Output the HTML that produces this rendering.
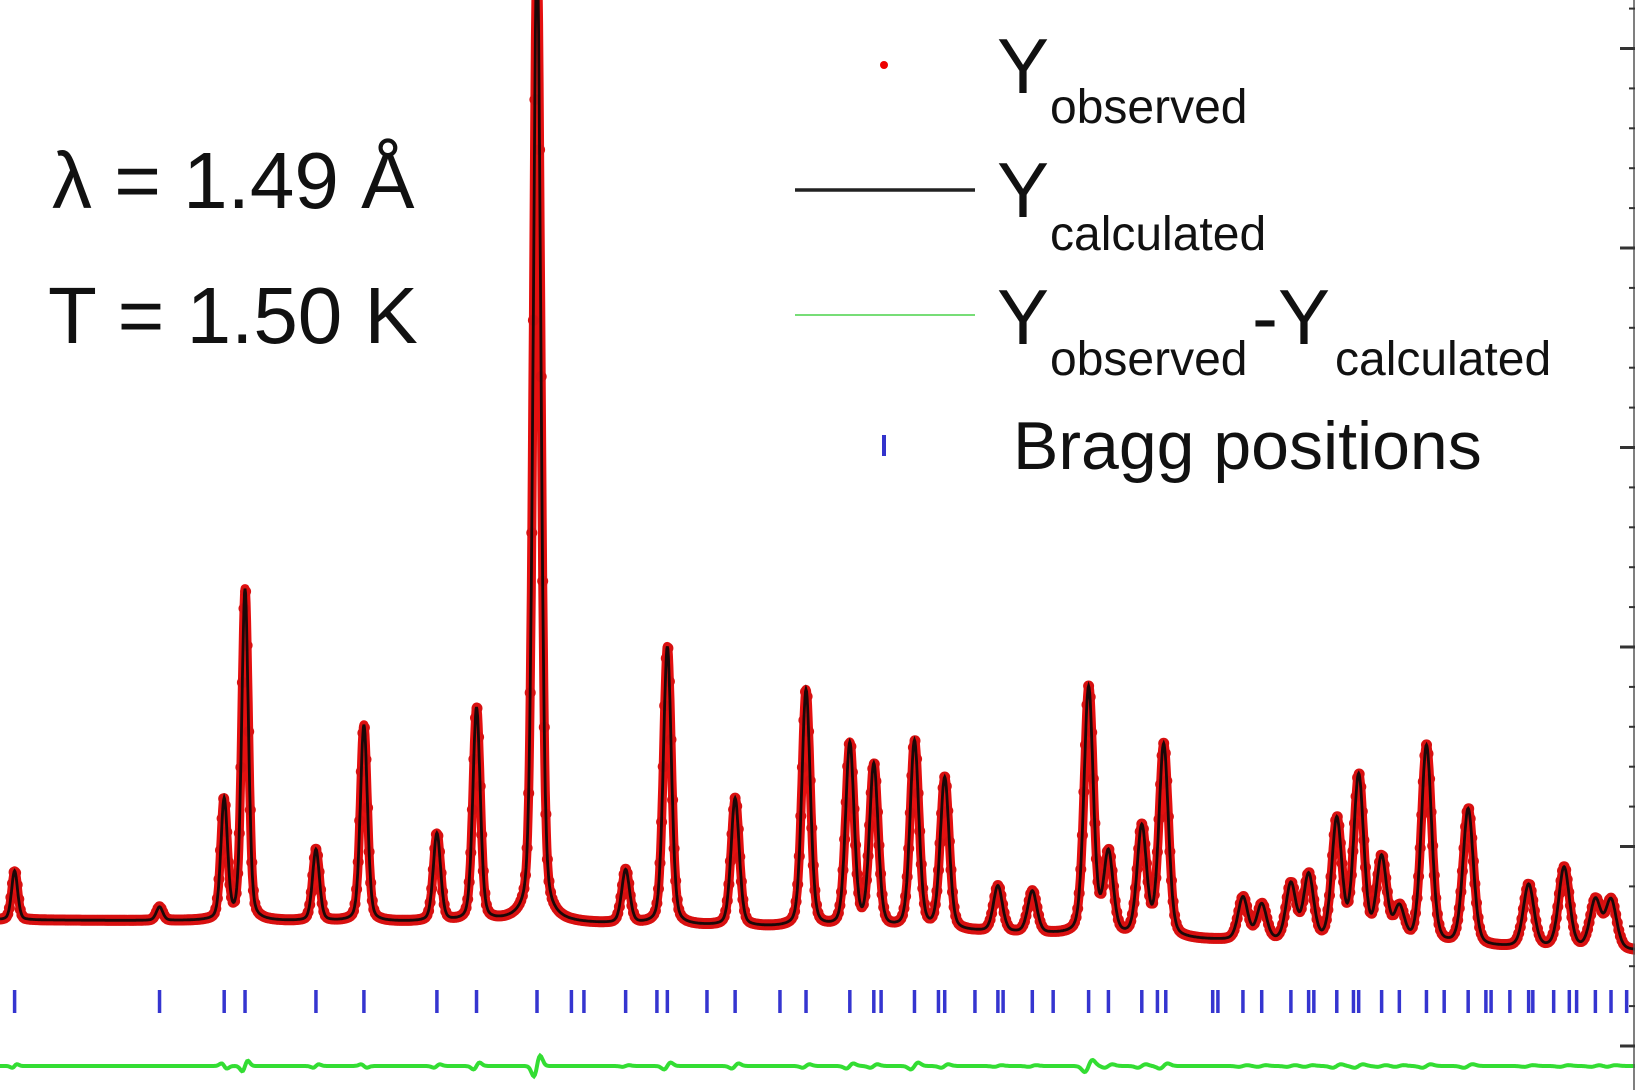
<!DOCTYPE html>
<html><head><meta charset="utf-8"><style>
html,body{margin:0;padding:0;background:#fff;}
svg{display:block;}
text{font-family:"Liberation Sans",Arial,sans-serif;fill:#111;}
</style></head><body>
<svg id="chart" width="1635" height="1090" viewBox="0 0 1635 1090" xmlns="http://www.w3.org/2000/svg">
<g id="plot"></g>
<g id="axis"></g>
<g>
<text x="52" y="208" font-size="80">λ = 1.49 Å</text>
<text x="48" y="343" font-size="80">T = 1.50 K</text>
</g>
<g>
<g>
<circle cx="884" cy="65" r="4" fill="#e00"/>
<text x="997" y="93" font-size="78">Y</text><text x="1050" y="123" font-size="48">observed</text>
</g>
<g>
<line x1="795" y1="190" x2="975" y2="190" stroke="#222" stroke-width="3.5"/>
<text x="997" y="217" font-size="78">Y</text><text x="1050" y="250" font-size="48">calculated</text>
</g>
<g>
<line x1="795" y1="315" x2="975" y2="315" stroke="#7d7" stroke-width="2"/>
<text x="997" y="344" font-size="78">Y</text><text x="1050" y="375" font-size="48">observed</text>
<text x="1252" y="344" font-size="78">-Y</text><text x="1335" y="375" font-size="48">calculated</text>
</g>
<g>
<line x1="884" y1="435" x2="884" y2="456" stroke="#33c" stroke-width="4"/>
<text x="1013" y="469" font-size="68">Bragg positions</text>
</g>
</g>
</svg>
<script>
// Peak positions (channel units) and heights (counts above background)
const peakPos = [14,153,215,235,303,349,419,457,515,600,640,705,773,815,838,877,906,957,990,1044,1063,1095,1116,1192,1210,1238,1255,1282,1303,1325,1342,1368,1408,1466,1500,1530,1545];
const peakHeight = [246,68,600,1660,358,985,440,1070,4900,268,1395,640,1190,920,815,940,760,230,210,1240,405,545,965,215,180,285,330,610,830,420,170,995,685,315,405,242,245];
const peakResidual = [10,0,-15,30,10,-10,10,20,60,5,20,15,10,15,10,20,10,5,5,35,10,10,15,5,5,5,5,10,10,5,5,10,10,5,5,5,5];
// Background (channel, counts)
const bgX = [0,500,900,1200,1568];
const bgY = [632,617,576,521,476];
// Bragg reflection positions (channel units)
const braggPos = [14,153,215,235,303,349,419,457,515,548,560,600,630,640,678,705,748,773,815,838,845,877,900,906,935,957,962,990,1010,1044,1063,1095,1110,1118,1163,1168,1192,1210,1238,1255,1260,1282,1298,1303,1325,1342,1368,1385,1408,1425,1430,1448,1466,1470,1490,1505,1512,1530,1545,1560];
const yTicks = [0,1000,2000,3000,4000,5000];

const NS='http://www.w3.org/2000/svg';
const xScale = v => v*1635/1568;
const yScale = I => 1046 - I*0.1995;
const diffScale = d => 1066 - d*0.1995;
function bg(x){for(let i=0;i<bgX.length-1;i++){if(x<=bgX[i+1]){const t=(x-bgX[i])/(bgX[i+1]-bgX[i]);return bgY[i]+t*(bgY[i+1]-bgY[i]);}}return bgY[bgY.length-1];}
function hw(x){return 3.4+x*0.0018;}
function calc(x){let s=bg(x);for(let i=0;i<peakPos.length;i++){const w=hw(peakPos[i]);const u=(x-peakPos[i])/w;s+=peakHeight[i]*(0.7*Math.exp(-0.693*u*u)+0.3/(1+u*u));}return s;}
function diff(x){let s=0;for(let i=0;i<peakPos.length;i++){const w=hw(peakPos[i]);const u=(x-peakPos[i])/w;s+=peakResidual[i]*u*Math.exp(-u*u)*2;}return s;}

const plot=document.getElementById('plot');
let od='';
for(let x=0;x<=1568;x+=0.5){od+=(x?'L':'M')+xScale(x).toFixed(1)+','+yScale(calc(x)+diff(x)).toFixed(1);}
const obsPath=document.createElementNS(NS,'path');


obsPath.setAttribute('d',od);obsPath.setAttribute('fill','none');obsPath.setAttribute('stroke','#e41010');
obsPath.setAttribute('stroke-width','9');obsPath.setAttribute('stroke-linejoin','round');obsPath.setAttribute('stroke-linecap','round');
plot.appendChild(obsPath);
const obsG=document.createElementNS(NS,'g');


plot.appendChild(obsG);
for(let x=0;x<=1568;x+=1.5){
  const c=document.createElementNS(NS,'circle');
  
  
  c.setAttribute('cx',xScale(x).toFixed(1));c.setAttribute('cy',yScale(calc(x)+diff(x)).toFixed(1));
  c.setAttribute('r','5.5');c.setAttribute('fill','#d81010');
  obsG.appendChild(c);
}
let d='';
for(let x=0;x<=1568;x+=0.5){d+=(x?'L':'M')+xScale(x).toFixed(1)+','+yScale(calc(x)).toFixed(1);}
const calcPath=document.createElementNS(NS,'path');


calcPath.setAttribute('d',d);calcPath.setAttribute('fill','none');calcPath.setAttribute('stroke','#1a0808');calcPath.setAttribute('stroke-width','2.8');
plot.appendChild(calcPath);

let dd='';
for(let x=0;x<=1568;x+=1){dd+=(x?'L':'M')+xScale(x).toFixed(1)+','+diffScale(diff(x)).toFixed(1);}
const diffPath=document.createElementNS(NS,'path');


diffPath.setAttribute('d',dd);diffPath.setAttribute('fill','none');diffPath.setAttribute('stroke','#33dd33');diffPath.setAttribute('stroke-width','4');
plot.appendChild(diffPath);

braggPos.forEach(p=>{
  const l=document.createElementNS(NS,'line');
  
  
  const x=xScale(p);
  l.setAttribute('x1',x);l.setAttribute('x2',x);l.setAttribute('y1',990);l.setAttribute('y2',1013);
  l.setAttribute('stroke','#3535d0');l.setAttribute('stroke-width','3.5');
  plot.appendChild(l);
});

const ax=document.getElementById('axis');
const axLine=document.createElementNS(NS,'line');


axLine.setAttribute('x1',1634);axLine.setAttribute('x2',1634);axLine.setAttribute('y1',0);axLine.setAttribute('y2',1090);
axLine.setAttribute('stroke','#555');axLine.setAttribute('stroke-width','1.5');
ax.appendChild(axLine);
for(let i=0;i<yTicks.length;i++){
  for(let m=0;m<5;m++){
    const v=yTicks[i]+m*200;
    const y=yScale(v);
    if(y<0)continue;
    const t=document.createElementNS(NS,'line');
    
    
    t.setAttribute('x1',m===0?1620:1629);t.setAttribute('x2',1635);
    t.setAttribute('y1',y);t.setAttribute('y2',y);
    t.setAttribute('stroke','#333');t.setAttribute('stroke-width',m===0?3:2);
    ax.appendChild(t);
  }
}
</script>
</body></html>
